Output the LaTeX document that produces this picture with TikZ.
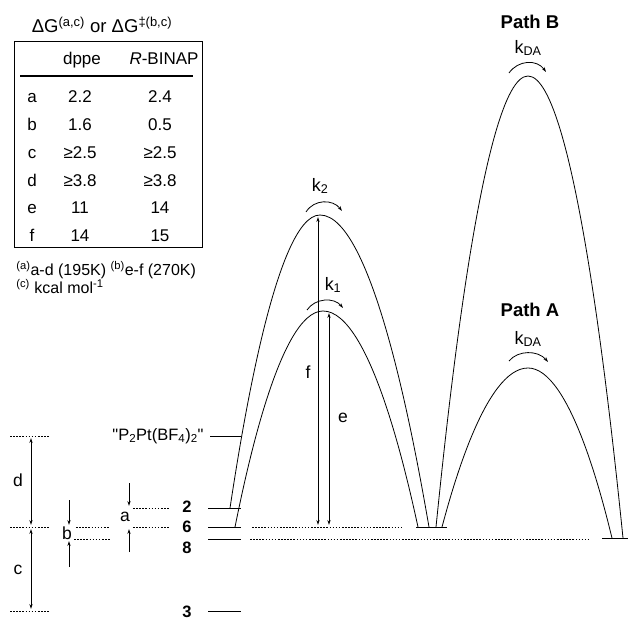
\documentclass[tikz,border=0pt]{standalone}
\usepackage{fontspec}
\setmainfont{Liberation Sans}
\newfontfamily\qfont{Liberation Sans}[Ligatures=TeXOff]
\usetikzlibrary{arrows.meta}
\newcommand\fsz[1]{\fontsize{#1}{#1}\selectfont}
\begin{document}
\begin{tikzpicture}[x=1pt,y=-1pt,
  line width=0.8pt,
  lvl/.style={line width=0.9pt},
  dots/.style={line width=0.8pt,dash pattern=on 1.6pt off 1.5pt},
  arr/.style={-{Stealth[length=5pt,width=3.2pt]}},
  darr/.style={{Stealth[length=5pt,width=3.2pt]}-{Stealth[length=5pt,width=3.2pt]}},
  tbl/.style={font=\fsz{17},inner sep=0pt,anchor=base},
  foot/.style={font=\fsz{16},inner sep=0pt,anchor=base west},
  lab/.style={font=\fsz{17.5},inner sep=0pt},
  num/.style={font=\bfseries\fsz{16.5},inner sep=0pt,anchor=base},
  rate/.style={font=\fsz{18},inner sep=0pt},
  pathlab/.style={font=\bfseries\fsz{18.5},inner sep=0pt},
  barrier/.style={line width=0.8pt}]
\useasboundingbox (0,0) rectangle (629,620);

% ---------------- table ----------------
\node[tbl,font=\fsz{18.5}] (title) at (102,33) {ΔG\textsuperscript{(a,c)} or ΔG\textsuperscript{‡(b,c)}};
\node[draw,line width=0.6pt,minimum width=188pt,minimum height=206pt,inner sep=0pt] (box) at (108,144) {};
\coordinate (rl) at (20,76); \coordinate (rr) at (193,76);
\draw[line width=2.6pt] (rl) -- (rr);
\node[tbl] (hd) at (82,65) {dppe};
\node[tbl] (hb) at (164,65) {\textit{R}-BINAP};
\foreach \n/\l/\u/\v/\y in {ra/a/2.2/2.4/103, rb/b/1.6/0.5/131, rc/c/≥2.5/≥2.5/159, rd/d/≥3.8/≥3.8/187, re/e/11/14/214, rf/f/14/15/242}{
  \node[tbl] (\n l) at (32,\y) {\l};
  \node[tbl] (\n d) at (80,\y) {\u};
  \node[tbl] (\n b) at (160,\y) {\v};
}
\node[foot] (fn1) at (16,276) {\textsuperscript{(a)}a-d (195K) \textsuperscript{(b)}e-f (270K)};
\node[foot] (fn2) at (16,294) {\textsuperscript{(c)} kcal mol\textsuperscript{-1}};

% ---------------- energy levels ----------------
\coordinate (pL) at (210,436); \coordinate (pR) at (241,436);
\coordinate (l2L) at (208,508); \coordinate (l2R) at (241,508);
\coordinate (l6L) at (208,527); \coordinate (l6R) at (241,527);
\coordinate (l8L) at (208,539); \coordinate (l8R) at (241,539);
\coordinate (l3L) at (208,611); \coordinate (l3R) at (241,611);
\draw[lvl] (pL)--(pR) (l2L)--(l2R) (l6L)--(l6R) (l8L)--(l8R) (l3L)--(l3R);
\node[anchor=east,font=\qfont\fsz{16.5},inner sep=0pt] (pname) at (204,436) {"P\textsubscript{2}Pt(BF\textsubscript{4})\textsubscript{2}"};
\node[num] (n2) at (187,512) {2};
\node[num] (n6) at (187,532) {6};
\node[num] (n8) at (187,553) {8};
\node[num] (n3) at (187,617) {3};

% dotted continuations
\coordinate (d6a) at (252,527); \coordinate (d6b) at (403,527);
\coordinate (d8a) at (250,539); \coordinate (d8b) at (588,539);
\draw[dots] (d6a)--(d6b) (d8a)--(d8b);
\coordinate (r6L) at (416,527); \coordinate (r6R) at (447,527);
\coordinate (r8L) at (602,538); \coordinate (r8R) at (628,538);
\draw[lvl] (r6L)--(r6R) (r8L)--(r8R);

% ---------------- left scale ----------------
\coordinate (s1a) at (10,436); \coordinate (s1b) at (50,436);
\coordinate (s2a) at (10,527); \coordinate (s2b) at (50,527);
\coordinate (s3a) at (10,611); \coordinate (s3b) at (50,611);
\draw[dots] (s1a)--(s1b) (s2a)--(s2b) (s3a)--(s3b);
\coordinate (dT) at (31,438); \coordinate (dB) at (31,525);
\coordinate (cT) at (31,529); \coordinate (cB) at (31,609);
\draw[darr] (dT)--(dB);
\draw[darr] (cT)--(cB);
\node[lab] (ld) at (18,480) {d};
\node[lab] (lc) at (18,570) {c};

\coordinate (b1a) at (76,527); \coordinate (b1b) at (110,527);
\coordinate (b2a) at (74,539); \coordinate (b2b) at (110,539);
\draw[dots] (b1a)--(b1b) (b2a)--(b2b);
\coordinate (bT0) at (69,500); \coordinate (bT1) at (69,525);
\coordinate (bB0) at (69,567); \coordinate (bB1) at (69,541);
\draw[arr] (bT0)--(bT1);
\draw[arr] (bB0)--(bB1);
\node[lab] (lb) at (67,533) {b};

\coordinate (a1a) at (133,508); \coordinate (a1b) at (170,508);
\coordinate (a2a) at (133,527); \coordinate (a2b) at (170,527);
\draw[dots] (a1a)--(a1b) (a2a)--(a2b);
\coordinate (aT0) at (129,483); \coordinate (aT1) at (129,506);
\coordinate (aB0) at (129,552); \coordinate (aB1) at (129,529);
\draw[arr] (aT0)--(aT1);
\draw[arr] (aB0)--(aB1);
\node[lab] (la) at (125,517) {a};

% ---------------- barriers ----------------
\coordinate (k2l) at (230,508); \coordinate (k2t) at (320,215); \coordinate (k2r) at (429,527);
\coordinate (k1l) at (235,527); \coordinate (k1t) at (323,311); \coordinate (k1r) at (418,527);
\coordinate (Bl) at (436,527); \coordinate (Bt) at (528,76); \coordinate (Br) at (623,538);
\coordinate (Al) at (442,527); \coordinate (At) at (528,368); \coordinate (Ar) at (612,538);
\draw[barrier] (k2l) parabola bend (k2t) (k2r);
\draw[barrier] (k1l) parabola bend (k1t) (k1r);
\draw[barrier] (Bl) parabola bend (Bt) (Br);
\draw[barrier] (Al) parabola bend (At) (Ar);

% e / f
\coordinate (fT) at (318,217); \coordinate (fB) at (318,525);
\coordinate (eT) at (329,313); \coordinate (eB) at (329,525);
\draw[darr] (fT)--(fB);
\draw[darr] (eT)--(eB);
\node[lab] (lf) at (308,372) {f};
\node[lab] (le) at (343,418) {e};

% rate arcs
\coordinate (k2a) at (306,212); \coordinate (k2b) at (342,211);
\draw[arr] (k2a) .. controls (314,199) and (333,199) .. (k2b);
\node[rate] (k2) at (320,186) {k\textsubscript{2}};
\coordinate (k1a) at (307,310); \coordinate (k1b) at (343,308);
\draw[arr] (k1a) .. controls (315,298) and (334,297) .. (k1b);
\node[rate] (k1) at (333,285) {k\textsubscript{1}};

\coordinate (Ba) at (509,73); \coordinate (Bb) at (546,72);
\draw[arr] (Ba) .. controls (518,60) and (537,59) .. (Bb);
\node[rate] (kB) at (528,48) {k\textsubscript{DA}};
\node[pathlab] (pB) at (530,22) {Path B};
\coordinate (Aa) at (509,361); \coordinate (Ab) at (548,362);
\draw[arr] (Aa) .. controls (518,350) and (538,350) .. (Ab);
\node[rate] (kA) at (528,339) {k\textsubscript{DA}};
\node[pathlab] (pA) at (530,310) {Path A};
\end{tikzpicture}
\end{document}
